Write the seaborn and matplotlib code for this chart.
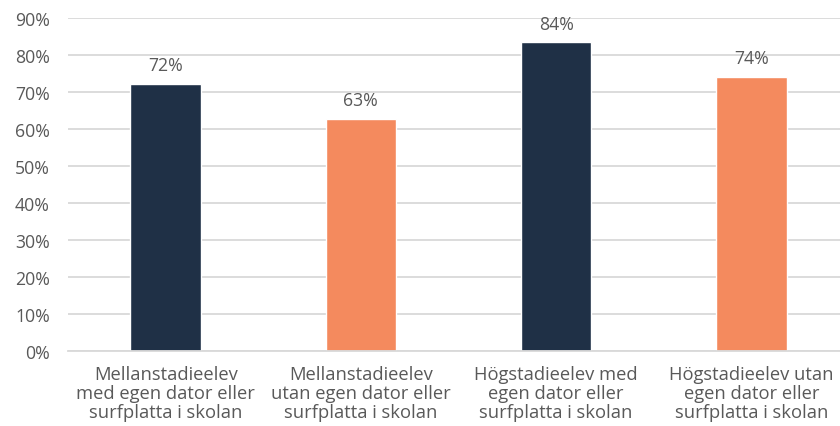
import matplotlib
matplotlib.use("Agg")
import matplotlib.pyplot as plt
import seaborn as sns
import pandas as pd

categories = [
    "Mellanstadieelev\nmed egen dator eller\nsurfplatta i skolan",
    "Mellanstadieelev\nutan egen dator eller\nsurfplatta i skolan",
    "Högstadieelev med\negen dator eller\nsurfplatta i skolan",
    "Högstadieelev utan\negen dator eller\nsurfplatta i skolan",
]
values = [72.2, 62.8, 83.5, 74.1]
labels = ["72%", "63%", "84%", "74%"]
groups = ["med", "utan", "med", "utan"]
yticks = [0, 10, 20, 30, 40, 50, 60, 70, 80, 90]

df = pd.DataFrame({"cat": categories, "val": values, "grp": groups})

sns.set_theme(style="white")
plt.rcParams["font.family"] = ["Open Sans", "DejaVu Sans"]
text_color = "#595959"
fs = 13.2

fig = plt.figure(figsize=(8.4, 4.27), dpi=100)
ax = fig.add_axes([68/840, 1 - 351.7/427, (849 - 68)/840, (351.7 - 19.3)/427])

sns.barplot(data=df, x="cat", y="val", hue="grp",
            palette={"med": "#1F3046", "utan": "#F48A5E"},
            dodge=False, width=0.36, legend=False, ax=ax, saturation=1)

ax.set_ylim(0, 90)
ax.set_xlim(-0.5, 3.5)
ax.set_yticks(yticks)
ax.set_yticklabels([f"{t}%" for t in yticks])
ax.yaxis.grid(True, color="#D9D9D9", linewidth=1.3)
ax.set_axisbelow(True)
for s in ["left", "right", "top"]:
    ax.spines[s].set_visible(False)
ax.spines["bottom"].set_color("#D9D9D9")
ax.spines["bottom"].set_linewidth(1.3)
ax.set_xlabel("")
ax.set_ylabel("")
ax.tick_params(axis="y", length=0, pad=13, labelsize=fs - 0.5, labelcolor=text_color)
ax.tick_params(axis="x", length=0, pad=10, labelsize=fs, labelcolor=text_color)
for lab in ax.get_xticklabels():
    lab.set_linespacing(1.08)

for i, (v, l) in enumerate(zip(values, labels)):
    ax.annotate(l, (i, v), xytext=(0, 7), textcoords="offset points",
                ha="center", va="bottom", fontsize=fs - 0.5, color=text_color)

fig.savefig("out.png", dpi=100)
